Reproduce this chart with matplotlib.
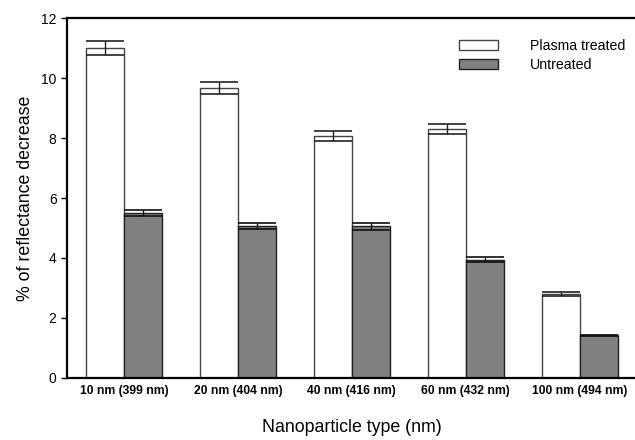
import matplotlib
matplotlib.use("Agg")
import matplotlib.pyplot as plt
import numpy as np

plt.rcParams["font.family"] = ["Liberation Sans", "DejaVu Sans"]

categories = ["10 nm (399 nm)", "20 nm (404 nm)", "40 nm (416 nm)", "60 nm (432 nm)", "100 nm (494 nm)"]
plasma = [11.0, 9.66, 8.07, 8.3, 2.8]
plasma_err = [0.22, 0.2, 0.16, 0.17, 0.07]
untreated = [5.5, 5.07, 5.05, 3.94, 1.42]
untreated_err = [0.11, 0.11, 0.12, 0.08, 0.02]

fig = plt.figure(figsize=(6.35, 4.4), dpi=100)
ax = fig.add_axes([0.1055, 0.141, 0.897, 0.818])

x = np.arange(len(categories))
w = 0.333
cap = 13.5

ax.bar(x - w / 2, plasma, w, color="white", edgecolor="#444444", linewidth=1.0, label="Plasma treated", zorder=2)
ax.bar(x + w / 2, untreated, w, color="#808080", edgecolor="#222222", linewidth=1.0, label="Untreated", zorder=2)
ax.errorbar(x - w / 2, plasma, yerr=plasma_err, fmt="none", ecolor="#222222",
            elinewidth=1.0, capsize=cap, capthick=1.2, zorder=3)
ax.errorbar(x + w / 2, untreated, yerr=untreated_err, fmt="none", ecolor="#111111",
            elinewidth=1.0, capsize=cap, capthick=1.2, zorder=3)

ax.set_xlim(-0.5, 4.5)
ax.set_ylim(0, 12)
ax.set_yticks([0, 2, 4, 6, 8, 10, 12])
ax.set_xticks(x)
ax.set_xticklabels(categories, fontsize=8.7, fontweight="bold")
ax.tick_params(axis="x", length=0, pad=5)
ax.tick_params(axis="y", labelsize=10, length=4, width=1, direction="out")

for s in ["left", "bottom", "top"]:
    ax.spines[s].set_linewidth(1.6)
ax.spines["right"].set_visible(False)

ax.set_ylabel("% of reflectance decrease", fontsize=12.8)
ax.yaxis.set_label_coords(-0.058, 0.5)
ax.set_xlabel("Nanoparticle type (nm)", fontsize=12.8, labelpad=16)

ax.legend(loc="upper left", bbox_to_anchor=(0.679, 0.958), borderaxespad=0, frameon=False,
          fontsize=10.2, handlelength=2.7, handleheight=0.7, handletextpad=2.3, labelspacing=0.37)

fig.savefig("out.png", dpi=100)
